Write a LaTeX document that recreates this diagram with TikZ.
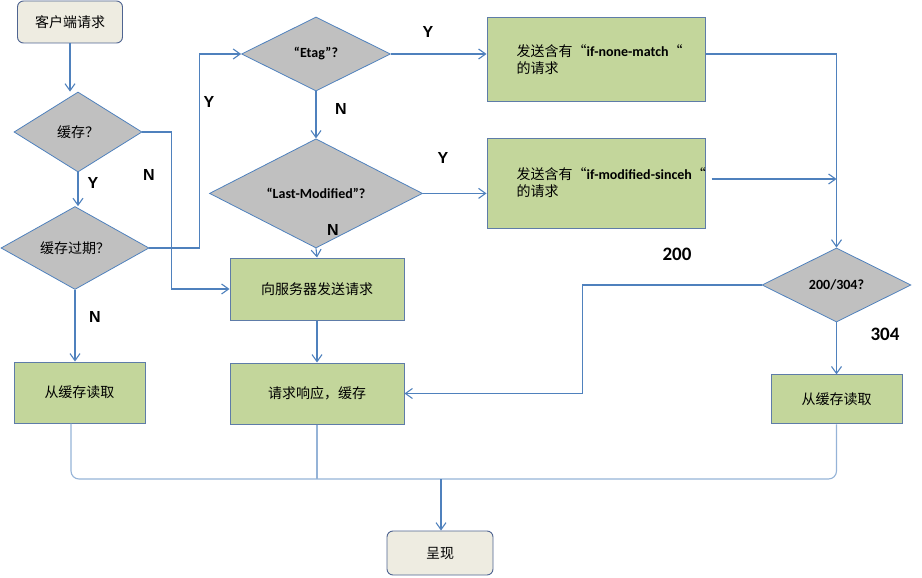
\documentclass[tikz,border=0pt]{standalone}
\usepackage{fontspec}
\setmainfont{Liberation Sans}
\newfontfamily\cjk{Noto Sans CJK SC}
\newfontfamily\calib{Carlito}
\usetikzlibrary{shapes.geometric, arrows.meta, positioning}
\definecolor{linkblue}{RGB}{79,129,189}
\definecolor{mergeblue}{RGB}{149,179,215}
\definecolor{boxblue}{RGB}{94,124,168}
\definecolor{termblue}{RGB}{79,100,145}
\definecolor{termfill}{RGB}{238,236,225}
\definecolor{procgreen}{RGB}{195,214,155}
\definecolor{decgray}{RGB}{192,192,192}
\newcommand{\cjkfont}{\cjk\fontsize{14}{17}\selectfont}
\newcommand{\keyfont}{\calib\bfseries\fontsize{14}{16}\selectfont}
\newcommand{\ynfont}{\bfseries\fontsize{16}{18}\selectfont}
\newcommand{\codefont}{\calib\bfseries\fontsize{19}{21}\selectfont}
\tikzset{
  startend/.style={rectangle, draw=termblue, fill=termfill, rounded corners=6pt,
    minimum width=105pt, minimum height=42pt, font=\cjkfont, line width=0.9pt},
  decision/.style={diamond, draw=linkblue, fill=decgray, inner sep=0pt,
    font=\cjkfont, line width=0.8pt},
  process/.style={rectangle, draw=boxblue, fill=procgreen,
    font=\cjkfont, line width=1pt},
  proctext/.style={align=left, inner sep=0pt, font=\cjkfont},
  yn/.style={font=\ynfont},
  codelabel/.style={font=\codefont},
  arrow/.style={-{Straight Barb[length=7pt, width=10pt]}, line width=1.1pt, color=linkblue},
  mergeline/.style={line width=1.1pt, color=mergeblue}
}

\begin{document}
\begin{tikzpicture}[x=1pt, y=-1pt]
  \useasboundingbox (0,0) rectangle (922,578);

  % left column
  \node[startend] (client) at (70,22) {客户端请求};
  \node[decision, minimum width=128pt, minimum height=80pt] (cache) at (78,132) {缓存？};
  \node[decision, minimum width=148pt, minimum height=73pt] (expired) at (75,248) {缓存过期？};
  \node[process, minimum width=131pt, minimum height=61pt] (readL) at (79.5,392.5) {从缓存读取};

  % middle column
  \node[decision, font=\keyfont, minimum width=149pt, minimum height=74pt] (etag) at (316,54) {“Etag”?};
  \node[decision, font=\keyfont, minimum width=213pt, minimum height=74pt, below=47pt of etag] (lastmod) {“Last-Modified”?};
  \node[process, minimum width=174pt, minimum height=62pt] (server) at (317,289) {向服务器发送请求};
  \node[process, minimum width=174pt, minimum height=61pt, below=42pt of server] (resp) {请求响应，缓存};

  % right column
  \node[process, minimum width=218pt, minimum height=84pt] (ifnone) at (596,60) {};
  \node[proctext, right=30pt of ifnone.west] (ifnonetxt) {发送含有“{\keyfont if-none-match}“\\的请求};
  \node[process, minimum width=218pt, minimum height=90pt] (ifmod) at (596,183) {};
  \node[proctext, right=30pt of ifmod.west] (ifmodtxt) {发送含有“{\keyfont if-modified-sinceh}“\\的请求};
  \node[decision, font=\keyfont, minimum width=149pt, minimum height=74pt] (check) at (836.5,285) {200/304?};
  \node[process, minimum width=131pt, minimum height=49pt, below=52pt of check] (readR) {从缓存读取};

  \node[startend, minimum width=106pt, minimum height=44pt] (present) at (440,553) {呈现};

  % connectors
  \draw[arrow] (client.south) -- (client.south |- cache.north);
  \draw[arrow] (cache.south) -- (cache.south |- expired.north);
  \draw[arrow] (cache.east) -- ++(29,0) |- (server.west);
  \draw[arrow] (expired.east) -- ++(50,0) |- (etag.west);
  \draw[arrow] (expired.south) -- (expired.south |- readL.north);
  \draw[arrow] (etag.east) -- (etag.east -| ifnone.west);
  \draw[arrow] (etag.south) -- (lastmod.north);
  \draw[arrow] (lastmod.east) -- (lastmod.east -| ifmod.west);
  \draw[arrow] (lastmod.south) -- (server.north);
  \draw[arrow] (server.south) -- (resp.north);
  \draw[arrow] (ifnone.east |- etag.east) -| (check.north);
  \draw[arrow] ([xshift=6pt, yshift=4pt]ifmod.east) -- ([yshift=4pt]ifmod.east -| check.north);
  \draw[arrow] (check.west) -- ++(-179,0) |- (resp.east);
  \draw[arrow] (check.south) -- (readR.north);

  % merge to output
  \coordinate (joinM) at (441,479);
  \draw[mergeline, rounded corners=8pt] ([xshift=-8.5pt]readL.south) -- ([xshift=-8.5pt]readL.south |- joinM)
    -- (readR.south |- joinM) -- (readR.south);
  \draw[mergeline] (resp.south) -- (resp.south |- joinM);
  \draw[arrow] (joinM) -- (joinM |- present.north);

  % labels
  \node[yn] (ycache) at (93,183) {Y};
  \node[yn] (ncache) at (149,175) {N};
  \node[yn] (yexpired) at (209,102) {Y};
  \node[yn] (nexpired) at (95,317) {N};
  \node[yn] (yetag) at (428,32) {Y};
  \node[yn] (netag) at (341,109) {N};
  \node[yn] (ylastmod) at (443,158) {Y};
  \node[yn] (nlastmod) at (333,230) {N};
  \node[codelabel] (c200) at (677,254) {200};
  \node[codelabel] (c304) at (885,334) {304};
\end{tikzpicture}
\end{document}
